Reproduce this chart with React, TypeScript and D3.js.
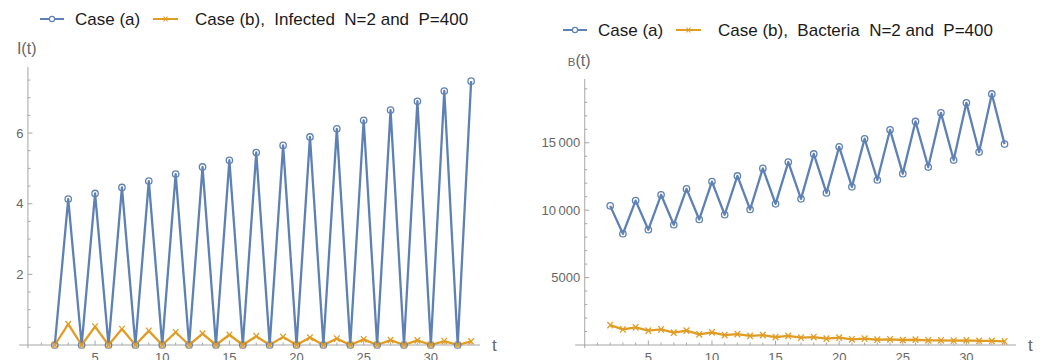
import React, { useEffect, useRef } from 'react';
import * as d3 from 'd3';

const times = [2, 3, 4, 5, 6, 7, 8, 9, 10, 11, 12, 13, 14, 15, 16, 17, 18, 19, 20, 21, 22, 23, 24, 25, 26, 27, 28, 29, 30, 31, 32, 33];

const infectedA = [0, 4.13, 0, 4.29, 0, 4.46, 0, 4.64, 0, 4.84, 0, 5.04, 0, 5.23, 0, 5.45, 0, 5.65, 0, 5.89, 0, 6.12, 0, 6.36, 0, 6.65, 0, 6.9, 0, 7.19, 0, 7.47];
const infectedB = [0, 0.59, 0, 0.52, 0, 0.45, 0, 0.4, 0, 0.36, 0, 0.32, 0, 0.29, 0, 0.25, 0, 0.23, 0, 0.21, 0, 0.18, 0, 0.16, 0, 0.14, 0, 0.13, 0, 0.11, 0, 0.1];

const bacteriaA = [10320, 8250, 10710, 8550, 11140, 8920, 11580, 9310, 12120, 9660, 12540, 10050, 13100, 10470, 13570, 10840, 14170, 11280, 14700, 11730, 15300, 12240, 15960, 12710, 16580, 13200, 17220, 13720, 17960, 14310, 18620, 14900];
const bacteriaB = [1480, 1160, 1310, 1060, 1160, 910, 1060, 790, 940, 740, 810, 670, 740, 590, 670, 540, 590, 470, 540, 420, 470, 390, 420, 370, 390, 345, 345, 320, 345, 300, 300, 270];

const xMajorTicks = [5, 10, 15, 20, 25, 30];
const infectedTicks = [2, 4, 6];
const bacteriaTicks = [5000, 10000, 15000];

const BLUE = '#5e81b5';
const ORANGE = '#e19c24';
const AXIS = '#a6a6a6';
const LABEL = '#666666';

type PanelProps = {
  a: number[];
  b: number[];
  xRange: [number, number];
  xDomain: [number, number];
  yTop: number;
  yMax: number;
  yMinorStep: number;
  yTicks: number[];
  legendX: number;
  legendY: number;
  legendText: string;
  yLabel: 'I' | 'B';
};

const Panel = (p: PanelProps) => {
  const gRef = useRef<SVGGElement>(null);

  useEffect(() => {
    const g = d3.select(gRef.current);
    g.selectAll('*').remove();

    const baseY = 345;
    const x = d3.scaleLinear().domain(p.xDomain).range(p.xRange);
    const y = d3.scaleLinear().domain([0, p.yMax]).range([baseY, p.yTop]);
    const x0 = x(0);
    const fmt = (v: number) => (v >= 10000 ? d3.format(',')(v).replace(',', '\u2009') : String(v));

    // axes
    g.append('line')
      .attr('x1', p.xRange[0]).attr('x2', p.xRange[1])
      .attr('y1', baseY).attr('y2', baseY)
      .attr('stroke', AXIS).attr('stroke-width', 1);
    g.append('line')
      .attr('x1', x0).attr('x2', x0)
      .attr('y1', p.yTop).attr('y2', baseY + 3)
      .attr('stroke', AXIS).attr('stroke-width', 1);

    // x ticks
    const xMinor = d3.range(1, Math.floor(p.xDomain[1]) + 1);
    g.selectAll('line.xt')
      .data(xMinor)
      .join('line')
      .attr('x1', (d) => x(d)).attr('x2', (d) => x(d))
      .attr('y1', baseY)
      .attr('y2', (d) => baseY - (d % 5 === 0 ? 4.5 : 2.5))
      .attr('stroke', AXIS);
    g.selectAll('text.xl')
      .data(xMajorTicks)
      .join('text')
      .attr('x', (d) => x(d))
      .attr('y', 362)
      .attr('text-anchor', 'middle')
      .attr('font-size', 13)
      .attr('fill', LABEL)
      .text((d) => d);

    // y ticks
    const yMinor = d3.range(p.yMinorStep, p.yMax, p.yMinorStep);
    g.selectAll('line.yt')
      .data(yMinor)
      .join('line')
      .attr('x1', x0)
      .attr('x2', (d) => x0 + (p.yTicks.includes(Math.round(d * 100) / 100) ? 4.5 : 2.5))
      .attr('y1', (d) => y(d)).attr('y2', (d) => y(d))
      .attr('stroke', AXIS);
    g.selectAll('text.yl')
      .data(p.yTicks)
      .join('text')
      .attr('x', x0 - 4.5)
      .attr('y', (d) => y(d))
      .attr('dy', '0.35em')
      .attr('text-anchor', 'end')
      .attr('font-size', 13)
      .attr('fill', LABEL)
      .text((d) => fmt(d));

    // axis labels
    g.append('text')
      .attr('x', p.xRange[1] + 12)
      .attr('y', baseY + 6)
      .attr('font-size', 17)
      .attr('fill', LABEL)
      .text('t');
    if (p.yLabel === 'I') {
      g.append('text')
        .attr('x', x0 - 11).attr('y', p.yTop - 13)
        .attr('font-size', 16).attr('fill', LABEL)
        .text('I(t)');
    } else {
      const t = g.append('text')
        .attr('x', x0 - 17).attr('y', p.yTop - 13)
        .attr('fill', LABEL);
      t.append('tspan').attr('font-size', 11.5).text('B');
      t.append('tspan').attr('font-size', 16).text('(t)');
    }

    // series
    const series = [
      { values: p.a, color: BLUE, mark: 'circle' },
      { values: p.b, color: ORANGE, mark: 'cross' },
    ];
    const line = d3.line<number>().x((_, i) => x(times[i])).y((d) => y(d));
    series.forEach((s) => {
      g.append('path')
        .datum(s.values)
        .attr('d', line)
        .attr('fill', 'none')
        .attr('stroke', s.color)
        .attr('stroke-width', 2.3)
        .attr('stroke-linejoin', 'round');
    });
    series.forEach((s) => {
      const pts = s.values.map((v, i) => [x(times[i]), y(v)]);
      if (s.mark === 'circle') {
        g.selectAll(null)
          .data(pts)
          .join('circle')
          .attr('cx', (d) => d[0]).attr('cy', (d) => d[1])
          .attr('r', 3.2)
          .attr('fill', 'none')
          .attr('stroke', s.color)
          .attr('stroke-width', 1.3);
      } else {
        g.selectAll(null)
          .data(pts)
          .join('path')
          .attr('d', (d) => `M${d[0] - 2.8},${d[1] - 3.2}L${d[0] + 2.8},${d[1] + 3.2}M${d[0] + 2.8},${d[1] - 3.2}L${d[0] - 2.8},${d[1] + 3.2}`)
          .attr('stroke', s.color)
          .attr('stroke-width', 1.3);
      }
    });

    // legend
    const lx = p.legendX;
    const ly = p.legendY;
    g.append('line')
      .attr('x1', lx).attr('x2', lx + 24).attr('y1', ly).attr('y2', ly)
      .attr('stroke', BLUE).attr('stroke-width', 2);
    g.append('circle')
      .attr('cx', lx + 12).attr('cy', ly).attr('r', 2.6)
      .attr('fill', 'white').attr('stroke', BLUE).attr('stroke-width', 1.2);
    g.append('text')
      .attr('x', lx + 35).attr('y', ly + 6)
      .attr('font-size', 17).attr('fill', '#1a1a1a')
      .text('Case (a)');
    const ox = lx + 113;
    g.append('line')
      .attr('x1', ox).attr('x2', ox + 25).attr('y1', ly).attr('y2', ly)
      .attr('stroke', ORANGE).attr('stroke-width', 2);
    g.append('path')
      .attr('d', `M${ox + 10.5},${ly - 2.5}L${ox + 14.5},${ly + 2.5}M${ox + 14.5},${ly - 2.5}L${ox + 10.5},${ly + 2.5}`)
      .attr('stroke', ORANGE).attr('stroke-width', 1.1);
    g.append('text')
      .attr('x', ox + 42).attr('y', ly + 6)
      .attr('font-size', 17).attr('fill', '#1a1a1a')
      .style('white-space', 'pre')
      .text(p.legendText);
  }, [p]);

  return <g ref={gRef} />;
};

export default function App() {
  return (
    <svg
      width={1046}
      height={360}
      style={{ position: 'absolute', left: 0, top: 0, fontFamily: 'Liberation Sans, Arial, sans-serif' }}
    >
      <rect width={1046} height={360} fill="white" />
      <Panel
        a={infectedA}
        b={infectedB}
        xDomain={[-0.65, 33.66]}
        xRange={[19.2, 480]}
        yTop={67}
        yMax={7.87}
        yMinorStep={0.5}
        yTicks={infectedTicks}
        legendX={40}
        legendY={19}
        legendText="Case (b),  Infected  N=2 and  P=400"
        yLabel="I"
      />
      <Panel
        a={bacteriaA}
        b={bacteriaB}
        xDomain={[-0.75, 33.9]}
        xRange={[575.2, 1016]}
        yTop={79}
        yMax={19730}
        yMinorStep={1000}
        yTicks={bacteriaTicks}
        legendX={563}
        legendY={30}
        legendText="Case (b),  Bacteria  N=2 and  P=400"
        yLabel="B"
      />
    </svg>
  );
}
